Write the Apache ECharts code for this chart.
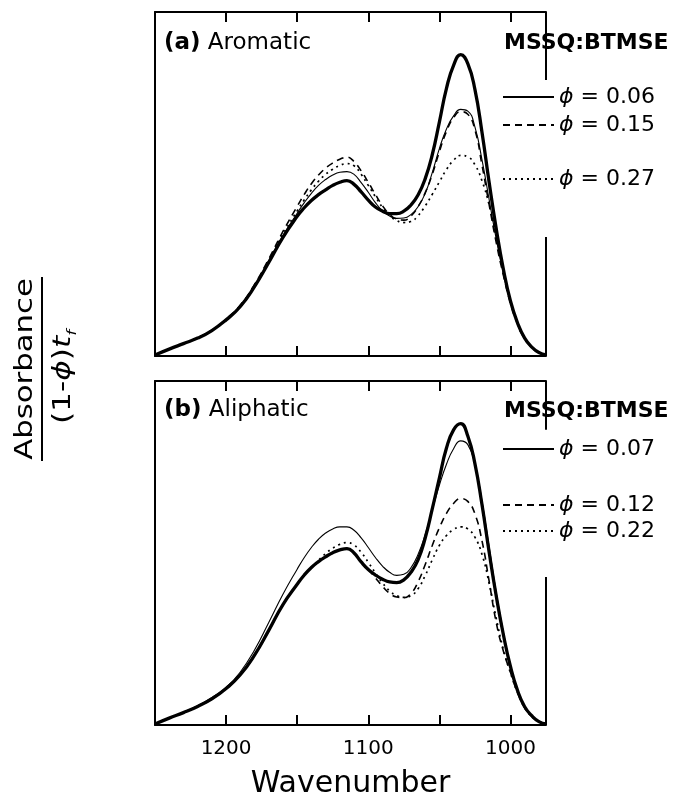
<!DOCTYPE html>
<html><head><meta charset="utf-8">
<script src="https://cdn.jsdelivr.net/npm/echarts@6/dist/echarts.min.js"></script>
<style>html,body{margin:0;padding:0;background:#fff}#c{width:675px;height:801px}</style>
</head><body><div id="c"></div>
<script>
// ---- data ----
const wavenumber = [1250,1240,1230,1220,1210,1200,1190,1180,1170,1160,1150,1145,1140,1135,1130,1125,1120,1115,1110,1105,1100,1095,1090,1085,1080,1075,1070,1065,1060,1055,1050,1045,1040,1035,1030,1025,1020,1015,1010,1005,1000,995,990,985,980,975];

// (a) Aromatic
const aMSSQ   = [0.3,2.0,3.6,5.2,7.4,10.5,14.4,20.2,27.2,34.5,40.6,43.1,45.2,46.9,48.3,49.6,50.5,51.0,49.9,47.7,45.3,43.3,42.1,41.4,41.4,42.1,43.9,46.8,51.5,58.5,68.0,77.8,84.5,87.6,85.0,77.5,65.0,50.5,37.0,25.3,16.0,9.6,5.2,2.6,1.0,0.3];
const aPhi006 = [0.3,2.0,3.6,5.2,7.4,10.5,14.5,20.4,27.6,35.0,41.5,44.6,47.3,49.6,51.3,52.6,53.4,53.6,52.8,50.4,47.6,44.6,42.2,40.7,40.0,40.1,41.1,43.4,47.2,53.3,60.3,66.0,69.8,71.7,71.2,66.6,57.0,45.5,34.0,24.0,15.6,9.4,5.0,2.5,1.0,0.3];
const aPhi015 = [0.3,2.0,3.6,5.3,7.5,10.7,14.8,20.8,28.2,36.2,43.5,47.0,50.1,52.6,54.6,56.1,57.2,57.8,56.5,53.8,50.5,47.0,43.7,41.2,39.8,39.5,40.7,43.4,47.4,52.8,59.4,65.3,69.3,71.0,70.3,65.8,55.5,44.0,33.0,23.5,15.4,9.3,5.0,2.5,1.0,0.3];
const aPhi027 = [0.3,2.0,3.6,5.2,7.4,10.6,14.6,20.6,27.8,35.4,42.2,45.4,48.3,50.8,52.8,54.3,55.4,55.9,55.3,52.8,49.6,46.3,43.2,40.8,39.4,38.8,39.1,40.8,43.6,47.0,50.6,54.2,56.9,58.3,57.9,55.6,50.9,44.0,34.8,24.8,15.8,9.4,5.0,2.5,1.0,0.3];

// (b) Aliphatic
const bMSSQ   = [0.3,2.0,3.6,5.4,7.6,10.6,14.6,20.3,27.5,35.0,40.9,43.6,45.8,47.5,48.9,50.1,50.9,51.3,50.0,47.4,45.2,43.6,42.4,41.6,41.4,42.2,44.4,48.0,54.3,62.8,71.8,80.5,85.8,87.6,84.0,76.0,64.0,50.3,37.5,26.3,17.0,10.0,5.3,2.7,1.0,0.3];
const bPhi007 = [0.3,2.0,3.7,5.6,8.0,10.9,15.4,21.8,29.8,38.0,45.3,48.7,51.6,54.0,55.8,57.0,57.6,57.6,56.6,54.4,51.6,48.7,46.2,44.4,43.5,43.8,45.7,49.6,55.3,62.5,69.7,75.8,80.3,82.6,81.5,75.8,65.0,51.8,38.5,27.0,17.2,9.9,5.2,2.6,1.0,0.3];
const bPhi012 = [0.3,2.0,3.6,5.4,7.6,10.6,14.6,20.3,27.5,35.0,40.9,43.6,45.8,47.5,48.9,50.1,50.9,51.3,50.0,47.4,45.2,42.8,40.3,38.3,37.2,37.0,38.2,41.6,46.6,52.2,57.3,61.5,64.4,65.8,65.0,61.4,53.5,41.8,29.8,21.5,15.3,9.4,5.0,2.5,1.0,0.3];
const bPhi022 = [0.3,2.0,3.6,5.4,7.6,10.6,14.6,20.3,27.5,35.0,40.9,43.6,45.8,47.9,49.8,51.4,52.5,53.0,52.3,50.2,47.3,44.2,41.3,39.0,37.6,37.1,37.6,39.6,43.4,48.0,52.2,55.1,56.8,57.6,57.0,54.6,49.6,41.2,31.0,22.0,15.2,9.4,5.0,2.5,1.0,0.3];

const xTicks = [1000,1050,1100,1150,1200];
const xTickLabels = [1000,1100,1200];
const legendA = ['ϕ = 0.06','ϕ = 0.15','ϕ = 0.27'];
const legendB = ['ϕ = 0.07','ϕ = 0.12','ϕ = 0.22'];

// ---- layout / style ----
const FONT = 'DejaVu Sans';
const X_MIN = 975, X_MAX = 1250;
const rightBorderA = [80.2, 34.6];   // gap in right frame (y units)
const rightBorderB = [85.8, 43.0];

const chart = echarts.init(document.getElementById('c'));
const pair = arr => wavenumber.map((w, i) => [w, arr[i]]);
const ST = {
  thick:  {color:'#000', width:3.3, type:'solid'},
  thin:   {color:'#000', width:1.1, type:'solid'},
  dashed: {color:'#000', width:1.6, type:[7,5]},
  dotted: {color:'#000', width:1.7, type:[2,4]}
};
function lineSeries(name, arr, g, st, extra) {
  return Object.assign({
    name, type:'line', xAxisIndex:g*2, yAxisIndex:g, data:pair(arr),
    symbol:'none', showSymbol:false, smooth:0.5, lineStyle:st, itemStyle:{color:'#000'},
    z: st === ST.thick ? 3 : 4
  }, extra || {});
}
function borderMark(gap) {
  return {
    silent:true, symbol:['none','none'], label:{show:false},
    lineStyle:{color:'#000', width:2, type:'solid'},
    data:[[{coord:[X_MIN,100]},{coord:[X_MIN,gap[0]]}],[{coord:[X_MIN,gap[1]]},{coord:[X_MIN,0]}]]
  };
}
function xAx(g, pos, labels, extra) {
  return Object.assign({
    type:'value', gridIndex:g, position:pos, inverse:true, min:X_MIN, max:X_MAX,
    axisLine:{show:true, onZero:false, lineStyle:{color:'#000', width:2}},
    axisTick:{show:true, inside:true, length:10, customValues:xTicks, lineStyle:{color:'#000', width:2}},
    axisLabel:{show:labels, customValues:xTickLabels, formatter:v => String(v), margin:14,
      color:'#000', fontFamily:FONT, fontSize:20},
    splitLine:{show:false}
  }, extra || {});
}
function yAx(g) {
  return {type:'value', gridIndex:g, min:0, max:100,
    axisLine:{show:true, onZero:false, lineStyle:{color:'#000', width:2}},
    axisTick:{show:false}, axisLabel:{show:false}, splitLine:{show:false}};
}
function legendItem(name, center) {
  return {data:[name], orient:'vertical', left:502, top:center-11, padding:0,
    itemWidth:51, itemHeight:14, selectedMode:false,
    itemStyle:{opacity:0},
    formatter: n => '{p|ϕ}' + n.slice(1),
    textStyle:{fontFamily:FONT, fontSize:22, color:'#000',
      rich:{p:{fontStyle:'italic', fontFamily:FONT, fontSize:22, color:'#000'}}}};
}

const option = {
  animation:false,
  backgroundColor:'#fff',
  grid:[
    {left:155, width:391, top:12, height:344},
    {left:155, width:391, top:381, height:344}
  ],
  xAxis:[
    xAx(0,'bottom',false), xAx(0,'top',false),
    xAx(1,'bottom',true,{name:'Wavenumber', nameLocation:'middle', nameGap:44,
      nameTextStyle:{fontFamily:FONT, fontSize:30, color:'#000'}}),
    xAx(1,'top',false)
  ],
  yAxis:[yAx(0), yAx(1)],
  legend:[
    legendItem(legendA[0],97), legendItem(legendA[1],125), legendItem(legendA[2],179),
    legendItem(legendB[0],449), legendItem(legendB[1],505), legendItem(legendB[2],531)
  ],
  series:[
    lineSeries('MSSQ (a)', aMSSQ, 0, ST.thick, {markLine:borderMark(rightBorderA)}),
    lineSeries(legendA[0], aPhi006, 0, ST.thin),
    lineSeries(legendA[1], aPhi015, 0, ST.dashed),
    lineSeries(legendA[2], aPhi027, 0, ST.dotted),
    lineSeries('MSSQ (b)', bMSSQ, 1, ST.thick, {markLine:borderMark(rightBorderB)}),
    lineSeries(legendB[0], bPhi007, 1, ST.thin),
    lineSeries(legendB[1], bPhi012, 1, ST.dashed),
    lineSeries(legendB[2], bPhi022, 1, ST.dotted)
  ],
  graphic:[
    {type:'text', x:164, y:43, z:10, style:{text:'{b|(a)} Aromatic', fontFamily:FONT, fontSize:23, fill:'#000',
      verticalAlign:'middle', textVerticalAlign:'middle', rich:{b:{fontWeight:'bold', fontFamily:FONT, fontSize:23}}}},
    {type:'text', x:504, y:43, z:10, style:{text:'MSSQ:BTMSE', fontFamily:FONT, fontWeight:'bold', fontSize:22, fill:'#000',
      verticalAlign:'middle', textVerticalAlign:'middle'}},
    {type:'text', x:164, y:410, z:10, style:{text:'{b|(b)} Aliphatic', fontFamily:FONT, fontSize:23, fill:'#000',
      verticalAlign:'middle', textVerticalAlign:'middle', rich:{b:{fontWeight:'bold', fontFamily:FONT, fontSize:23}}}},
    {type:'text', x:504, y:411, z:10, style:{text:'MSSQ:BTMSE', fontFamily:FONT, fontWeight:'bold', fontSize:22, fill:'#000',
      verticalAlign:'middle', textVerticalAlign:'middle'}},
    {type:'text', x:25, y:369, rotation:Math.PI/2, scaleX:1.23, style:{text:'Absorbance', fontFamily:FONT, fontSize:25, fill:'#000',
      align:'center', textAlign:'center', verticalAlign:'middle', textVerticalAlign:'middle'}},
    {type:'line', shape:{x1:42, y1:277, x2:42, y2:461}, style:{stroke:'#000', lineWidth:2}},
    {type:'text', x:64, y:377, rotation:Math.PI/2, scaleX:1.3, style:{
      text:'{n|(1-}{i|ϕ}{n|)}{i|t}{s|f}', fill:'#000', align:'center', textAlign:'center',
      verticalAlign:'middle', textVerticalAlign:'middle',
      rich:{n:{fontFamily:FONT, fontSize:24, lineHeight:30, verticalAlign:'middle'},
            i:{fontFamily:FONT, fontSize:24, fontStyle:'italic', lineHeight:30, verticalAlign:'middle'},
            s:{fontFamily:FONT, fontSize:13, fontStyle:'italic', lineHeight:30, verticalAlign:'bottom'}}}}
  ]
};
chart.setOption(option);
</script></body></html>
